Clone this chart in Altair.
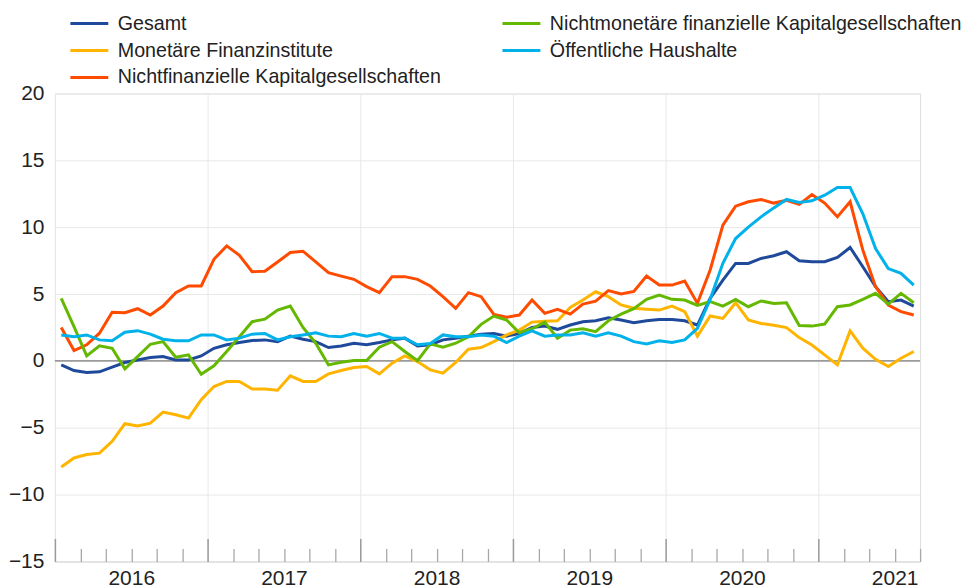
import altair as alt
import pandas as pd

# Monthly observations, Jan 2016 .. Aug 2021
months = [f"{y}-{m:02d}" for y in range(2016, 2022) for m in range(1, 13)][:68]

gesamt = [-0.3, -0.72, -0.87, -0.82, -0.47, -0.12, 0.07, 0.25, 0.32, 0.07, 0.07,
          0.37, 0.94, 1.2, 1.37, 1.52, 1.57, 1.44, 1.85, 1.62, 1.44,
          1.0, 1.12, 1.32, 1.2, 1.37, 1.57, 1.7, 1.12, 1.2, 1.57,
          1.7, 1.85, 2.0, 2.05, 1.85, 2.05, 2.5, 2.6, 2.36, 2.68,
          2.93, 3.0, 3.23, 3.05, 2.86, 3.0, 3.1, 3.1, 3.0, 2.68,
          4.68, 6.04, 7.29, 7.29, 7.66, 7.86, 8.16, 7.49, 7.41, 7.41,
          7.73, 8.48, 7.04, 5.55, 4.43, 4.55, 4.1]

monetaere = [-7.93, -7.26, -7.0, -6.9, -6.02, -4.7, -4.86, -4.66, -3.83, -4.03, -4.28,
             -2.9, -1.92, -1.54, -1.54, -2.1, -2.1, -2.2, -1.12, -1.54, -1.54,
             -0.97, -0.72, -0.5, -0.42, -0.97, -0.17, 0.37, -0.05, -0.67, -0.92,
             -0.12, 0.87, 1.0, 1.44, 1.94, 2.3, 2.9, 2.97, 3.0, 4.0,
             4.55, 5.17, 4.8, 4.18, 3.93, 3.86, 3.8, 4.1, 3.68, 1.85,
             3.36, 3.18, 4.35, 3.06, 2.8, 2.66, 2.49, 1.74, 1.19, 0.45,
             -0.3, 2.24, 0.95, 0.12, -0.42, 0.2, 0.7]

nichtfinanzielle = [2.5, 0.77, 1.2, 2.07, 3.63, 3.6, 3.9, 3.43, 4.1, 5.1, 5.6,
                    5.6, 7.6, 8.6, 7.9, 6.67, 6.7, 7.4, 8.1, 8.2, 7.4,
                    6.6, 6.34, 6.1, 5.55, 5.1, 6.3, 6.3, 6.1, 5.6, 4.8,
                    3.93, 5.1, 4.8, 3.48, 3.26, 3.43, 4.55, 3.55, 3.86, 3.5,
                    4.25, 4.47, 5.25, 5.0, 5.2, 6.34, 5.67, 5.67, 5.97, 4.3,
                    6.8, 10.15, 11.57, 11.9, 12.07, 11.8, 12.0, 11.7, 12.44, 11.8,
                    10.77, 11.9, 8.28, 5.55, 4.18, 3.68, 3.43]

nichtmonetaere = [4.68, 2.56, 0.37, 1.12, 0.94, -0.6, 0.32, 1.24, 1.44, 0.27, 0.45,
                  -1.0, -0.37, 0.7, 1.8, 2.93, 3.12, 3.8, 4.1, 2.5, 1.32,
                  -0.3, -0.1, 0.02, 0.02, 1.02, 1.44, 0.7, 0.02, 1.27, 1.02,
                  1.32, 1.8, 2.73, 3.35, 3.06, 2.1, 2.4, 2.9, 1.7, 2.3,
                  2.4, 2.18, 3.0, 3.5, 3.9, 4.6, 4.92, 4.6, 4.55, 4.15,
                  4.43, 4.1, 4.6, 4.05, 4.48, 4.3, 4.35, 2.64, 2.6, 2.75,
                  4.05, 4.18, 4.6, 5.05, 4.25, 5.05, 4.35]

oeffentliche = [1.94, 1.8, 1.94, 1.57, 1.5, 2.14, 2.26, 2.0, 1.62, 1.5, 1.5,
                1.94, 1.94, 1.57, 1.7, 2.0, 2.05, 1.57, 1.8, 1.94, 2.1,
                1.85, 1.8, 2.05, 1.85, 2.05, 1.7, 1.7, 1.2, 1.3, 1.94,
                1.8, 1.8, 1.94, 1.85, 1.37, 1.85, 2.24, 1.85, 1.94, 1.94,
                2.1, 1.85, 2.1, 1.85, 1.44, 1.27, 1.5, 1.37, 1.57, 2.44,
                4.6, 7.3, 9.15, 10.0, 10.77, 11.44, 12.07, 11.85, 11.97, 12.39,
                12.96, 12.96, 11.0, 8.4, 6.9, 6.54, 5.67]

series_names = ["Gesamt", "Monetäre Finanzinstitute",
                "Nichtfinanzielle Kapitalgesellschaften",
                "Nichtmonetäre finanzielle Kapitalgesellschaften",
                "Öffentliche Haushalte"]
series_colors = ["#1f4a9c", "#ffb400", "#ff4b00", "#65b800", "#00b1ea"]
series_values = [gesamt, monetaere, nichtfinanzielle, nichtmonetaere, oeffentliche]

year_ticks = [0, 12, 24, 36, 48, 60]
year_label_pos = [6, 18, 30, 42, 54, 66]
minor_ticks = [v for v in range(2, 69, 2) if v % 12]
y_ticks = [-15, -10, -5, 0, 5, 10, 15, 20]

rows = []
for name, vals in zip(series_names, series_values):
    for m, v in zip(months, vals):
        yr, mo = int(m[:4]), int(m[5:])
        rows.append({"serie": name, "t": (yr - 2016) * 12 + mo - 0.5, "wert": v})
df = pd.DataFrame(rows)

W, H = 867, 469
xscale = alt.Scale(domain=[0, 68], nice=False, zero=False)
yscale = alt.Scale(domain=[-15, 20], nice=False, zero=False)
FONT = "Liberation Sans"

yaxis = alt.Axis(
    orient="left", values=y_ticks, grid=True, gridColor="#e8e8e8", ticks=False,
    domain=False, labelFontSize=21, labelPadding=11,
    labelColor="#222222", labelFont=FONT, title=None)

base = alt.Chart(df)

zero_line = alt.Chart(pd.DataFrame({"null": [0]})).mark_rule(
    color="#7a7a7a", strokeWidth=1.5
).encode(y=alt.YDatum(0, scale=yscale, axis=yaxis))

lines = base.mark_line(strokeWidth=3).encode(
    x=alt.X("t:Q", scale=xscale, axis=alt.Axis(
        orient="bottom", values=year_label_pos,
        labelExpr="'' + (2016 + floor(datum.value / 12))",
        ticks=False, grid=False, domain=True, domainColor="#dcdcdc",
        labelFontSize=21, labelPadding=6, labelColor="#222222",
        labelFont=FONT, title=None)),
    y=alt.Y("wert:Q", scale=yscale, axis=yaxis),
    color=alt.Color("serie:N", scale=alt.Scale(domain=series_names, range=series_colors),
                    legend=alt.Legend(
                        orient="none", legendX=14, legendY=-80, columns=2,
                        title=None, symbolType="stroke", symbolSize=1444,
                        symbolStrokeWidth=3, labelFontSize=19.7, labelFont=FONT,
                        labelLimit=600, labelOffset=8, columnPadding=60,
                        rowPadding=7, clipHeight=20,
                        labelColor="#222222", padding=0)),
)


def axis_layer(axis):
    return base.mark_point(opacity=0).encode(
        x=alt.X("t:Q", scale=xscale, axis=axis),
        y=alt.Y("wert:Q", scale=yscale, axis=yaxis),
    )


grid_layer = axis_layer(alt.Axis(
    orient="bottom", values=year_ticks, grid=True, gridColor="#e8e8e8",
    ticks=False, labels=False, domain=False, title=None))
major_tick_layer = axis_layer(alt.Axis(
    orient="top", offset=-H, values=year_ticks, ticks=True, tickSize=23,
    tickColor="#9a9a9a", tickWidth=1.5, labels=False, domain=False,
    grid=False, title=None))
minor_tick_layer = axis_layer(alt.Axis(
    orient="top", offset=-H, values=minor_ticks, ticks=True, tickSize=13,
    tickColor="#a8a8a8", tickWidth=1.3, labels=False, domain=False,
    grid=False, title=None))

chart = alt.layer(
    zero_line, lines, grid_layer, major_tick_layer, minor_tick_layer
).resolve_axis(x="independent").properties(
    width=W, height=H,
    autosize=alt.AutoSizeParams(type="none"),
    padding={"left": 47, "top": 85, "right": 45, "bottom": 32},
).configure_view(stroke=None).configure(font=FONT)

chart.save("out.html", embed_options={"renderer": "svg", "actions": False})
